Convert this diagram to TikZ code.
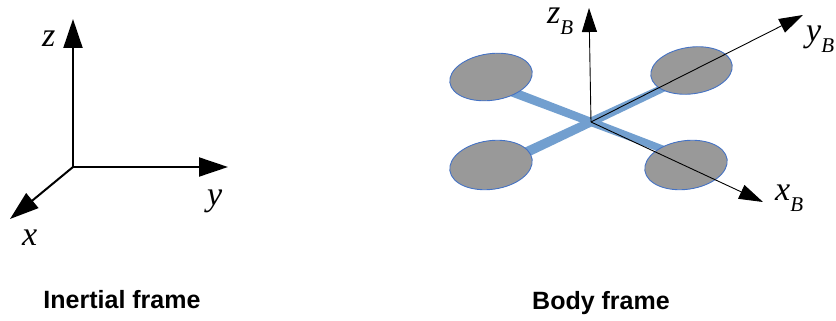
\documentclass[tikz,border=0pt]{standalone}
\usepackage{fontspec}
\setmainfont{Liberation Serif}
\newfontfamily\capfont{Liberation Sans}
\usetikzlibrary{arrows.meta,calc}

\definecolor{armblue}{HTML}{729FCF}
\definecolor{rotorgray}{HTML}{999999}
\definecolor{rotoredge}{HTML}{4472C4}

% axis label with optional subscript
\newcommand\axlab[2]{\fontsize{34}{34}\selectfont\itshape #1\raisebox{-11pt}{\fontsize{21}{21}\selectfont #2}}

\tikzset{
  bigaxis/.style={line width=2pt, -{Triangle[length=29pt,width=19pt]}},
  bodyaxis/.style={line width=0.9pt, -{Triangle[length=24pt,width=15pt]}},
  rotor/.style={fill=rotorgray, draw=rotoredge, line width=0.9pt},
  arm/.style={fill=armblue},
  axlabel/.style={inner sep=0pt, anchor=base west},
  caption/.style={inner sep=0pt, anchor=base, font=\capfont\bfseries\fontsize{25}{25}\selectfont},
}

\begin{document}
\begin{tikzpicture}[x=1pt,y=-1pt]
\useasboundingbox (0,0) rectangle (836,321);

% ---------- inertial frame ----------
\coordinate (O) at (73,167);
\coordinate (Oz) at (73,19);
\coordinate (Oy) at (228,167);
\coordinate (Ox) at (10,219);
\draw[bigaxis] (O) -- (Oz);
\draw[bigaxis] (O) -- (Oy);
\draw[bigaxis] (O) -- (Ox);
\node[axlabel] (lz) at (42,47) {\axlab{z}{}};
\node[axlabel] (ly) at (207,205) {\axlab{y}{}};
\node[axlabel] (lx) at (22,245) {\axlab{x}{}};
\node[caption] (cap1) at (122,308) {Inertial frame};

% ---------- body frame ----------
\coordinate (B) at (591,122);
\coordinate (armA1) at (495,85.5);
\coordinate (armA2) at (680,155.8);
\coordinate (armB1) at (495,167);
\coordinate (armB2) at (685,77.8);

% arms (slightly tapered)
\fill[arm] ($(armA1)!4.6pt!90:(armA2)$) -- ($(armA2)!3.6pt!-90:(armA1)$)
  -- ($(armA2)!3.6pt!90:(armA1)$) -- ($(armA1)!4.6pt!-90:(armA2)$) -- cycle;
\fill[arm] ($(armB1)!5.2pt!90:(armB2)$) -- ($(armB2)!3.6pt!-90:(armB1)$)
  -- ($(armB2)!3.6pt!90:(armB1)$) -- ($(armB1)!5.2pt!-90:(armB2)$) -- cycle;

% rotors
\draw[rotor] (491,77) ellipse [x radius=41.5pt, y radius=23.3pt, rotate=8];
\draw[rotor] (691.5,70.5) ellipse [x radius=41pt, y radius=23.3pt, rotate=8];
\draw[rotor] (491,165) ellipse [x radius=41.5pt, y radius=24.3pt, rotate=8];
\draw[rotor] (686,165) ellipse [x radius=41.5pt, y radius=24.3pt, rotate=8];

% body axes
\coordinate (Bz) at (589,8);
\coordinate (By) at (803,15);
\coordinate (Bx) at (763,202);
\draw[bodyaxis] (B) -- (Bz);
\draw[bodyaxis] (B) -- (By);
\draw[bodyaxis] (B) -- (Bx);
\node[axlabel] (lzb) at (547,24) {\axlab{z}{B}};
\node[axlabel] (lyb) at (806,42) {\axlab{y}{B}};
\node[axlabel] (lxb) at (775,200) {\axlab{x}{B}};
\node[caption] (cap2) at (601,309) {Body frame};
\end{tikzpicture}
\end{document}
